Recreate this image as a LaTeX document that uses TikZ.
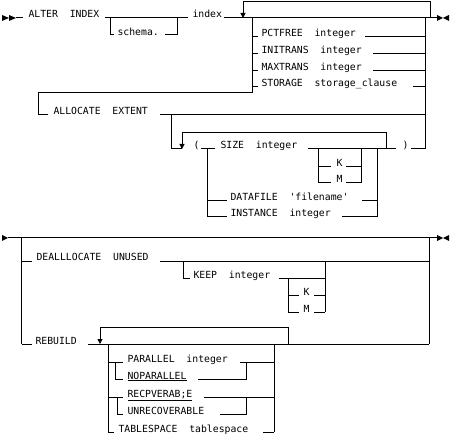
\documentclass[tikz,border=0pt]{standalone}
\usepackage{fontspec}
\newfontfamily\rrfont{DejaVu Sans Mono}
\usetikzlibrary{arrows.meta}

\begin{document}
\begin{tikzpicture}[x=1pt,y=-1pt,line width=1pt,every node/.style = {font=\rrfont\fontsize{9.8}{10}\selectfont, inner sep=0pt, anchor=base west},
  back/.style = {-{Triangle[width=5pt,length=5pt]}}]
\useasboundingbox (0,0) rectangle (452,438);
% ALTER INDEX
\fill (2,15) -- (9,18) -- (2,21) -- cycle;
\fill (9,15) -- (16,18) -- (9,21) -- cycle;
\draw (16,18) -- (23,18);
\node (alter) at (28,18) {ALTER~~INDEX};
\draw (105,18) -- (188,18);
\draw (110,18) -- (110,35) -- (114,35);
\node (schema) at (117,36) {schema.};
\draw (165,35) -- (177,35) -- (177,18);
\node (index) at (192,18) {index};
\draw (224,18) -- (437,18);
\fill (437,15) -- (443,18) -- (437,21) -- cycle;
\fill (449,15) -- (443,18) -- (449,21) -- cycle;
\draw[back] (430,18) -- (430,1.5) -- (243,1.5) -- (243,18);
\draw (252,18) -- (252,93) -- (38,93) -- (38,115) -- (48,115);
\draw (425,18) -- (425,149);
\draw (252,37) -- (258,37); \node (pctfree) at (261,37) {PCTFREE~~integer}; \draw (365,37) -- (425,37);
\draw (252,54) -- (258,54); \node (initrans) at (261,54) {INITRANS~~integer}; \draw (373,54) -- (425,54);
\draw (252,71) -- (258,71); \node (maxtrans) at (261,71) {MAXTRANS~~integer}; \draw (373,71) -- (425,71);
\draw (252,87) -- (258,87); \node (storage) at (261,87) {STORAGE~~storage\_clause}; \draw (413,87) -- (425,87);
% ALLOCATE EXTENT
\node (allocate) at (53,115) {ALLOCATE~~EXTENT};
\draw (160,115) -- (425,115);
\draw (171,115) -- (171,149) -- (182,149);
\draw[back] (386,149) -- (386,133) -- (182,133) -- (182,149);
\node (lparen) at (193,149) {(};
\draw (201,149) -- (215,149);
\node (size) at (220,149) {SIZE~~integer};
\draw (308,149) -- (396,149);
\node (rparen) at (402,149) {)};
\draw (411,149) -- (425,149);
\draw (207,149) -- (207,217);
\draw (377,149) -- (377,217);
\draw (318,149) -- (318,183);
\draw (361,149) -- (361,183);
\draw (318,167) -- (331,167); \node (sizek) at (336,167) {K}; \draw (346,167) -- (361,167);
\draw (318,183) -- (331,183); \node (sizem) at (336,183) {M}; \draw (346,183) -- (361,183);
\draw (207,201) -- (227,201); \node (datafile) at (230,201) {DATAFILE~~'filename'}; \draw (362,201) -- (377,201);
\draw (207,217) -- (227,217); \node (instance) at (230,217) {INSTANCE~~integer}; \draw (342,217) -- (377,217);
% DEALLOCATE / REBUILD
\fill (2,235) -- (8,238) -- (2,241) -- cycle;
\draw (8,238) -- (437,238);
\fill (437,235) -- (443,238) -- (437,241) -- cycle;
\fill (449,235) -- (443,238) -- (449,241) -- cycle;
\draw (21.5,238) -- (21.5,344);
\draw (429,238) -- (429,344);
\draw (21.5,261) -- (32,261); \node (dealloc) at (36,261) {DEALLLOCATE~~UNUSED};
\draw (160,261) -- (429,261);
\draw (183,261) -- (183,278) -- (190,278); \node (keep) at (193,278) {KEEP~~integer};
\draw (279,278) -- (325,278);
\draw (325,261) -- (325,312);
\draw (288,278) -- (288,312);
\draw (288,295) -- (299,295); \node (keepk) at (303,295) {K}; \draw (314,295) -- (325,295);
\draw (288,312) -- (299,312); \node (keepm) at (303,312) {M}; \draw (314,312) -- (325,312);
\draw (21.5,344) -- (32,344); \node (rebuild) at (35,344) {REBUILD};
\draw (88,344) -- (429,344);
\draw[back] (288,344) -- (288,327) -- (100,327) -- (100,344);
\draw (108,344) -- (108,432);
\draw (274,344) -- (274,432);
\draw (108,362) -- (123,362); \node (parallel) at (127,362) {PARALLEL~~integer}; \draw (240,362) -- (274,362);
\draw (115,362) -- (115,379) -- (123,379); \node (noparallel) at (127,379) {\underline{NOPARALLEL}}; \draw (198,379) -- (246,379) -- (246,362);
\draw (108,397) -- (123,397); \node (recover) at (127,397) {\underline{RECPVERAB;E}}; \draw (204,397) -- (274,397);
\draw (117,397) -- (117,414) -- (123,414); \node (unrecover) at (127,414) {UNRECOVERABLE}; \draw (220,414) -- (246,414) -- (246,397);
\draw (108,432) -- (114,432); \node (tablespace) at (118,432) {TABLESPACE~~tablespace}; \draw (263,432) -- (274,432);
\end{tikzpicture}
\end{document}
